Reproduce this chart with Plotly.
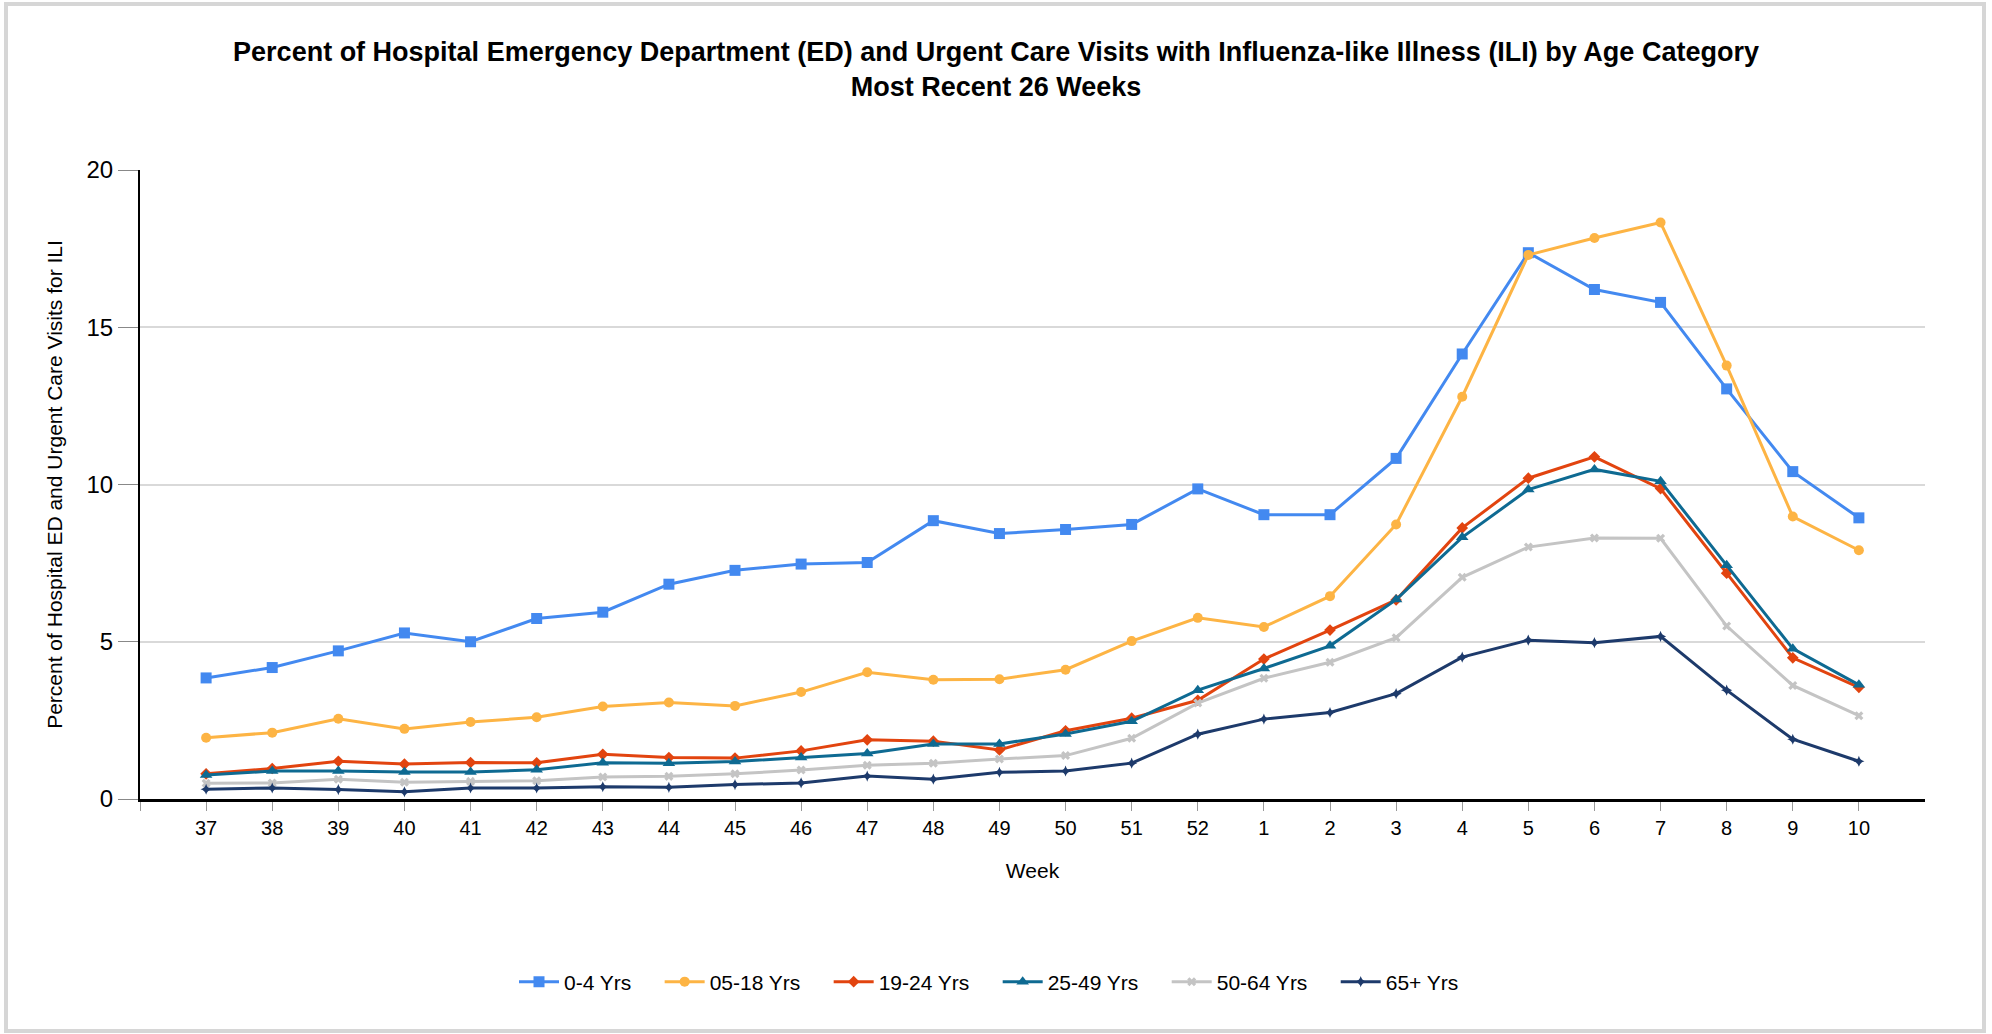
import plotly.graph_objects as go

weeks = ["37", "38", "39", "40", "41", "42", "43", "44", "45", "46", "47", "48", "49",
         "50", "51", "52", "1", "2", "3", "4", "5", "6", "7", "8", "9", "10"]

age_0_4 = [3.85, 4.18, 4.71, 5.28, 5.00, 5.74, 5.94, 6.83, 7.27, 7.47, 7.52, 8.85, 8.44,
           8.57, 8.73, 9.86, 9.04, 9.04, 10.83, 14.15, 17.37, 16.20, 15.79, 13.04, 10.41, 8.94]
age_05_18 = [1.95, 2.11, 2.55, 2.23, 2.45, 2.60, 2.94, 3.07, 2.96, 3.40, 4.03, 3.79, 3.81,
             4.11, 5.02, 5.76, 5.47, 6.45, 8.73, 12.79, 17.30, 17.84, 18.33, 13.78, 8.98, 7.91]
age_19_24 = [0.80, 0.97, 1.20, 1.11, 1.16, 1.15, 1.42, 1.32, 1.30, 1.53, 1.88, 1.84, 1.56,
             2.17, 2.57, 3.14, 4.45, 5.37, 6.33, 8.62, 10.20, 10.88, 9.87, 7.18, 4.49, 3.55]
age_25_49 = [0.76, 0.89, 0.89, 0.86, 0.86, 0.93, 1.15, 1.14, 1.19, 1.32, 1.45, 1.75, 1.75,
             2.07, 2.47, 3.46, 4.15, 4.87, 6.34, 8.32, 9.84, 10.48, 10.10, 7.43, 4.78, 3.63]
age_50_64 = [0.50, 0.51, 0.63, 0.53, 0.56, 0.58, 0.70, 0.72, 0.80, 0.92, 1.07, 1.14, 1.27,
             1.38, 1.93, 3.05, 3.84, 4.35, 5.13, 7.05, 8.01, 8.30, 8.29, 5.50, 3.61, 2.65]
age_65_plus = [0.31, 0.35, 0.30, 0.23, 0.35, 0.35, 0.39, 0.37, 0.46, 0.51, 0.73, 0.63, 0.85,
               0.89, 1.14, 2.06, 2.54, 2.75, 3.35, 4.51, 5.05, 4.97, 5.17, 3.46, 1.90, 1.20]

series_names = ["0-4 Yrs", "05-18 Yrs", "19-24 Yrs", "25-49 Yrs", "50-64 Yrs", "65+ Yrs"]
series_values = [age_0_4, age_05_18, age_19_24, age_25_49, age_50_64, age_65_plus]
series_colors = ["#4389f0", "#fdb444", "#e2440f", "#0e6a92", "#c4c4c4", "#1d3a6b"]
series_symbols = ["square", "circle", "diamond", "triangle-up", "x", "star-diamond"]
series_sizes = [11, 10, 9, 11, 8, 8]

x_pos = list(range(len(weeks)))

FONT = "Liberation Sans, Arial, sans-serif"
PAD = "&nbsp;" * 4

fig = go.Figure()
for i, (name, vals, col, sym, sz) in enumerate(zip(series_names, series_values, series_colors,
                                                   series_symbols, series_sizes)):
    label = name + (PAD if i < len(series_names) - 1 else "")
    fig.add_trace(go.Scatter(
        x=x_pos, y=vals, name=label, mode="lines+markers",
        line=dict(color=col, width=3),
        marker=dict(symbol=sym, size=sz, color=col, line=dict(width=0)),
    ))

# outer frame (pixel -> paper conversion for plot area 140..1925 x 170..799)
L, R, T, B = 140, 1925, 170, 799
def px(xp):
    return (xp - L) / (R - L)
def py(yp):
    return (B - yp) / (B - T)

fig.add_shape(type="rect", xref="paper", yref="paper",
              x0=px(6), x1=px(1984), y0=py(1031), y1=py(4),
              line=dict(color="#d6d6d6", width=4), layer="below")

fig.update_layout(
    width=1992, height=1034,
    margin=dict(l=L, r=1992 - R, t=T, b=1034 - B),
    paper_bgcolor="white", plot_bgcolor="white",
    font=dict(family=FONT, color="black", size=20),
    title=dict(
        text="<b>Percent of Hospital Emergency Department (ED) and Urgent Care Visits with Influenza-like Illness (ILI) by Age Category</b><br><b>Most Recent 26 Weeks</b>",
        x=0.5, xanchor="center", xref="container",
        y=1 - 61 / 1034, yanchor="middle", yref="container",
        font=dict(family=FONT, size=27, color="black"),
    ),
    showlegend=True,
    legend=dict(orientation="h", x=px(989), xanchor="center", y=py(982), yanchor="middle",
                font=dict(family=FONT, size=21, color="black"), itemwidth=40),
)

fig.update_xaxes(
    range=[-1, len(weeks)],
    tickmode="array", tickvals=[-1] + x_pos, ticktext=[""] + weeks,
    ticks="outside", ticklen=9, tickcolor="#999999", tickwidth=1,
    tickfont=dict(family=FONT, size=20, color="black"),
    showline=True, linecolor="black", linewidth=3,
    showgrid=False, zeroline=False,
    title=dict(text="Week", font=dict(family=FONT, size=21, color="black"), standoff=26),
)
fig.update_yaxes(
    range=[0, 20], tickvals=[0, 5, 10, 15, 20],
    ticks="outside", ticklen=20, tickcolor="#888888", tickwidth=1,
    tickfont=dict(family=FONT, size=24, color="black"),
    showline=True, linecolor="black", linewidth=2,
    showgrid=True, gridcolor="#d9d9d9", gridwidth=2, zeroline=False,
    title=dict(text="Percent of Hospital ED and Urgent Care Visits for ILI",
               font=dict(family=FONT, size=21, color="black"), standoff=18),
)

fig.write_html("out.html", config={"displayModeBar": False},
               post_script="document.body.style.margin='0';document.body.style.overflow='hidden';")
